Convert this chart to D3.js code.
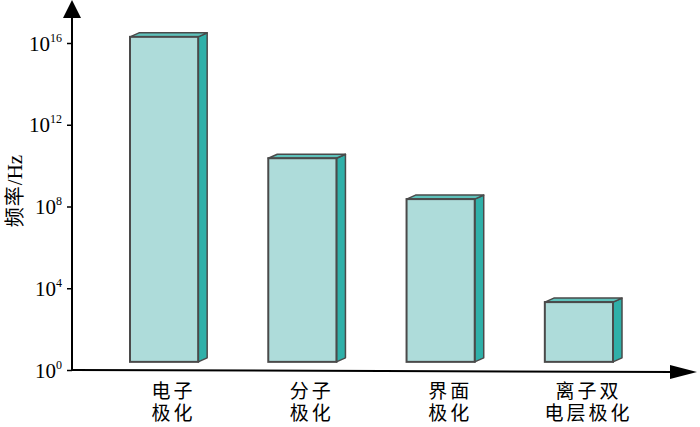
<!DOCTYPE html>
<html><head><meta charset="utf-8">
<script src="https://cdn.jsdelivr.net/npm/d3@7"></script>
<style>body{margin:0;background:#fff}svg{display:block}</style>
</head><body>
<script>
const categories = [["电子","极化"],["分子","极化"],["界面","极化"],["离子双","电层极化"]];
const values = [2e16, 2.3e10, 2.3e8, 2.1e3];
const barBase = 2.5;
const tickValues = [1, 1e4, 1e8, 1e12, 1e16];
const tickExponents = ["0","4","8","12","16"];
const yLabelCJK = "频率";
const yLabelUnit = "/Hz";

const W = 700, H = 427;
const svg = d3.select("body").append("svg").attr("width", W).attr("height", H);

const y = d3.scaleLog().domain([1, 1e16]).range([370, 43]);
const x = d3.scaleBand().domain(d3.range(categories.length)).range([130, 613]).paddingInner(0.507).paddingOuter(0);
const dx = 9, dy = 4;

// bars
const g = svg.append("g");
values.forEach((v, i) => {
  const x0 = x(i), x1 = x0 + x.bandwidth();
  const yt = y(v), yb = y(barBase);
  g.append("path")
    .attr("d", `M${x1},${yt} L${x1+dx},${yt-dy} L${x1+dx},${yb-dy} L${x1},${yb} Z`)
    .attr("fill", "#2fb0a9").attr("stroke", "#4a4a4a").attr("stroke-width", 1.5).attr("stroke-linejoin","round");
  g.append("path")
    .attr("d", `M${x0},${yt} L${x0+dx},${yt-dy} L${x1+dx},${yt-dy} L${x1},${yt} Z`)
    .attr("fill", "#5ec2bb").attr("stroke", "#4a4a4a").attr("stroke-width", 1.5).attr("stroke-linejoin","round");
  g.append("rect")
    .attr("x", x0).attr("y", yt).attr("width", x1 - x0).attr("height", yb - yt)
    .attr("fill", "#aedcda").attr("stroke", "#4a4a4a").attr("stroke-width", 2);
});

// y axis ticks
const ax = svg.append("g").attr("transform", "translate(72,0)")
  .call(d3.axisLeft(y).tickValues(tickValues).tickSize(5).tickFormat(""));
ax.select(".domain").remove();
ax.selectAll(".tick line").attr("stroke", "#000").attr("stroke-width", 1.5);
ax.selectAll(".tick").each(function(d, i) {
  const t = d3.select(this).append("text")
    .attr("x", -10).attr("y", 7)
    .attr("text-anchor", "end")
    .attr("fill", "#000")
    .style("font-family", "'Liberation Serif','Times New Roman',serif")
    .style("font-size", "21px");
  t.append("tspan").text("10");
  t.append("tspan").attr("dy", -9).style("font-size", "12px").text(tickExponents[i]);
});

// axis lines with arrows
svg.append("line").attr("x1", 72).attr("y1", 371).attr("x2", 72).attr("y2", 12)
  .attr("stroke", "#000").attr("stroke-width", 2);
svg.append("path").attr("d", "M72,0 L63,18 L81,18 Z").attr("fill", "#000");
svg.append("line").attr("x1", 72).attr("y1", 370).attr("x2", 675).attr("y2", 372)
  .attr("stroke", "#000").attr("stroke-width", 2);
svg.append("path").attr("d", "M697,372 L670,365 L670,379 Z").attr("fill", "#000");

// category labels
const cjk = "'Noto Sans CJK SC','Noto Sans',sans-serif";
categories.forEach((lines, i) => {
  const cx = x(i) + x.bandwidth() / 2 + 8 + 1.5;
  const t = svg.append("text")
    .attr("text-anchor", "middle")
    .style("font-family", cjk).style("font-size", "19px")
    .style("letter-spacing", "3px")
    .attr("fill", "#000");
  lines.forEach((s, j) => {
    t.append("tspan").attr("x", cx).attr("y", 398 + j * 22).text(s);
  });
});

// y label
const yl = svg.append("text")
  .attr("transform", "translate(22,191) rotate(-90)")
  .attr("text-anchor", "middle")
  .attr("fill", "#000")
  .style("font-size", "20px");
yl.append("tspan").style("font-family", cjk).style("letter-spacing", "1px").text(yLabelCJK);
yl.append("tspan").style("font-family", "'Liberation Serif','Times New Roman',serif").style("font-size","21px").text(yLabelUnit);
</script>
</body></html>
